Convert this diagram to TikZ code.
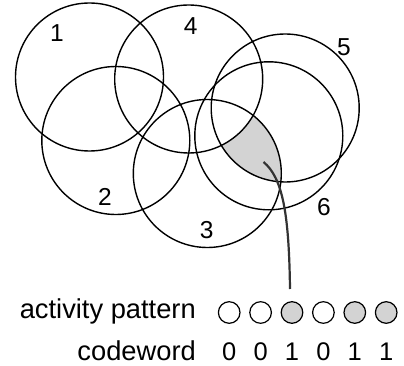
\documentclass[tikz,border=0pt]{standalone}
\usepackage{fontspec}
\setmainfont{Liberation Sans}
\definecolor{cellfill}{HTML}{D3D3D3}
\definecolor{wire}{HTML}{333333}
\begin{document}
\begin{tikzpicture}[x=1pt,y=-1pt,
  field/.style={draw=black,line width=1.4pt},
  fieldlabel/.style={font=\fontsize{24.5}{24.5}\selectfont,inner sep=0pt},
  bit/.style={circle,draw=black,line width=1.2pt,minimum size=21.6pt,inner sep=0pt},
  bitoff/.style={bit,fill=white},
  biton/.style={bit,fill=cellfill},
  rowtext/.style={font=\fontsize{27.3}{27.3}\selectfont,inner sep=0pt,anchor=base east},
  digit/.style={font=\fontsize{25.5}{25.5}\selectfont,inner sep=0pt,anchor=base}]
\useasboundingbox (0,0) rectangle (404,366);

% place-field centres
\coordinate (c1) at (89.5,77);
\coordinate (c4) at (188.7,79);
\coordinate (c2) at (115.8,140.5);
\coordinate (c3) at (207.3,173.5);
\coordinate (c5) at (285.2,108);
\coordinate (c6) at (268.8,135.8);
\def\rad{74}

% region inside fields 3, 5 and 6 but outside field 4
\begin{scope}
  \clip (c3) circle (\rad);
  \clip (c5) circle (\rad);
  \clip (c6) circle (\rad);
  \fill[cellfill,even odd rule] (0,0) rectangle (404,366) (c4) circle (\rad);
\end{scope}

% place fields
\foreach \c in {c1,c2,c3,c4,c5,c6}
  \draw[field] (\c) circle (\rad);

% field numbers
\node[fieldlabel] (l1) at (57,33) {1};
\node[fieldlabel] (l4) at (190.7,26) {4};
\node[fieldlabel] (l5) at (344,46.7) {5};
\node[fieldlabel] (l2) at (105,197) {2};
\node[fieldlabel] (l6) at (324,207) {6};
\node[fieldlabel] (l3) at (206.7,230) {3};

% activity pattern
\node[rowtext] (act) at (196,318) {activity pattern};
\node[bitoff] (b1) at (229.2,312.5) {};
\node[bitoff] (b2) at (260.6,312.5) {};
\node[biton]  (b3) at (292.0,312.5) {};
\node[bitoff] (b4) at (323.4,312.5) {};
\node[biton]  (b5) at (354.8,312.5) {};
\node[biton]  (b6) at (386.2,312.5) {};

% codeword
\node[rowtext] (cw) at (196,360.7) {codeword};
\foreach \i/\v in {1/0,2/0,3/1,4/0,5/1,6/1}
  \node[digit] (d\i) at (b\i |- 0,360.7) {\v};

% pointer from the shaded region to the active cell
\coordinate (tip) at (263.5,162);
\coordinate (foot) at (290,289);
\draw[wire,line width=2.2pt] (tip) .. controls (283,178) and (289,215) .. (foot);
\end{tikzpicture}
\end{document}
